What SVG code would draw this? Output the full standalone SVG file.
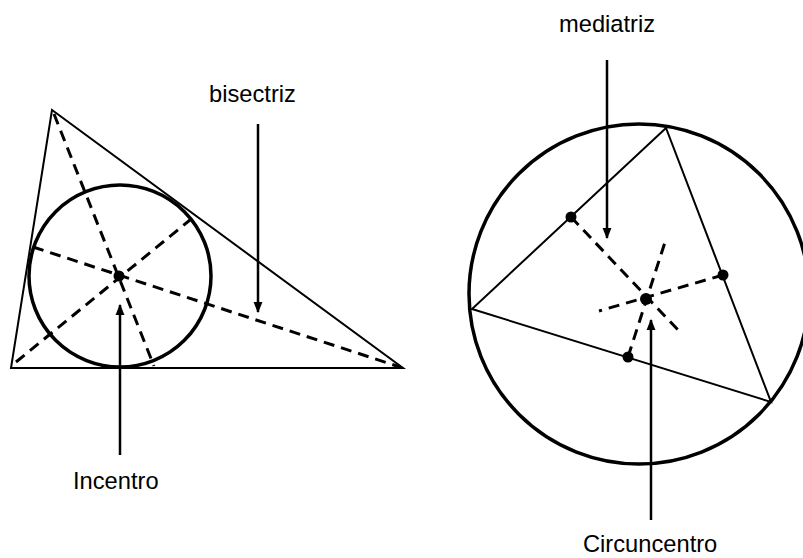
<svg xmlns="http://www.w3.org/2000/svg" width="803" height="558" viewBox="0 0 803 558">
<defs>
<style>
.thin{fill:none;stroke:#000;stroke-width:2}
.ring{fill:none;stroke:#000;stroke-width:3.5}
.dash{fill:none;stroke:#000;stroke-width:3;stroke-dasharray:11 7}
.dot{fill:#000}
.arrow{fill:none;stroke:#000;stroke-width:2.5;marker-end:url(#ah)}
.lbl{font-family:"Liberation Sans",Arial,sans-serif;font-size:23.7px;fill:#000}
</style>
<marker id="ah" viewBox="0 0 10 10" refX="9" refY="5" markerWidth="4.5" markerHeight="4.5" orient="auto" markerUnits="strokeWidth">
<path d="M0,1 L10,5 L0,9 Z" fill="#000"/>
</marker>
</defs>
<rect width="803" height="558" fill="#fff"/>
<g id="incircle-figure">
<path class="thin" d="M52,110 L11,368 L403,368 Z"/>
<circle class="ring" cx="120" cy="276" r="91"/>
<line class="dash" x1="54" y1="114" x2="154" y2="366"/>
<line class="dash" x1="16" y1="362" x2="190" y2="220"/>
<line class="dash" x1="33" y1="247" x2="400" y2="367"/>
<circle class="dot" cx="119" cy="276" r="5.5"/>
</g>
<g id="circumcircle-figure">
<circle class="ring" cx="639" cy="294" r="170"/>
<path class="thin" d="M666,128 L472,309 L771,402 Z"/>
<line class="dash" x1="571" y1="217" x2="680" y2="332"/>
<line class="dash" x1="723" y1="275" x2="599" y2="311"/>
<line class="dash" x1="628" y1="357" x2="666" y2="239"/>
<circle class="dot" cx="571" cy="217" r="5.5"/>
<circle class="dot" cx="723" cy="275" r="5.5"/>
<circle class="dot" cx="628" cy="357" r="5.5"/>
<circle class="dot" cx="646" cy="299" r="6"/>
</g>
<g id="label-bisectriz"><text class="lbl" x="209" y="102">bisectriz</text></g>
<g id="label-incentro"><text class="lbl" x="73" y="489">Incentro</text></g>
<g id="label-mediatriz"><text class="lbl" x="559" y="32">mediatriz</text></g>
<g id="label-circuncentro"><text class="lbl" x="583" y="552">Circuncentro</text></g>
<g id="connectors">
<line class="arrow" x1="258" y1="124" x2="258" y2="312"/>
<line class="arrow" x1="120" y1="455" x2="120" y2="305"/>
<line class="arrow" x1="607" y1="60" x2="607" y2="238"/>
<line class="arrow" x1="651" y1="520" x2="651" y2="320"/>
</g>
</svg>
